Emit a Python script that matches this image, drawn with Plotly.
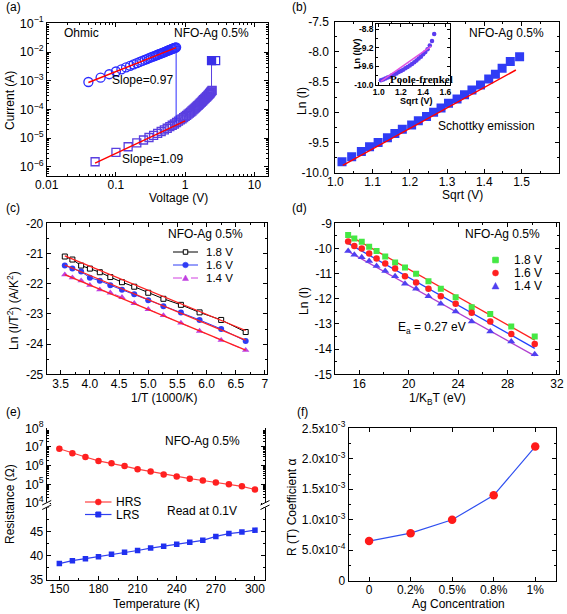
import plotly.graph_objects as go

W, H = 567, 614

# ---------------- (a) I-V curve, log-log ----------------
a_lrs_voltage = [0.04, 0.06, 0.08, 0.10, 0.12, 0.14, 0.16, 0.18, 0.20, 0.22, 0.24, 0.26, 0.28, 0.30,
                 0.32, 0.34, 0.36, 0.38, 0.40, 0.42, 0.44, 0.46, 0.48, 0.50, 0.52, 0.54, 0.56, 0.58,
                 0.60, 0.62, 0.64, 0.66, 0.68, 0.70, 0.72, 0.74]
a_lrs_current = [9.0e-4, 1.27e-3, 1.68e-3, 2.09e-3, 2.49e-3, 2.90e-3, 3.30e-3, 3.70e-3, 4.09e-3, 4.49e-3,
                 4.89e-3, 5.28e-3, 5.67e-3, 6.07e-3, 6.46e-3, 6.85e-3, 7.24e-3, 7.63e-3, 8.02e-3, 8.41e-3,
                 8.79e-3, 9.18e-3, 9.57e-3, 9.96e-3, 1.03e-2, 1.07e-2, 1.11e-2, 1.15e-2, 1.19e-2, 1.23e-2,
                 1.27e-2, 1.30e-2, 1.34e-2, 1.38e-2, 1.42e-2, 1.46e-2]
a_hrs_voltage = [0.05, 0.10, 0.15, 0.20, 0.25, 0.30, 0.35, 0.40, 0.45, 0.50,
                 0.55, 0.60, 0.65, 0.70, 0.75, 0.80, 0.85, 0.90, 0.95, 1.00,
                 1.05, 1.10, 1.15, 1.20, 1.25, 1.30, 1.35, 1.40, 1.45, 1.50,
                 1.55, 1.60, 1.65, 1.70, 1.75, 1.80, 1.85, 1.90, 1.95, 2.00,
                 2.05, 2.10, 2.15, 2.20, 2.25, 2.30, 2.35, 2.40, 2.45]
a_hrs_current = [1.5e-6, 3.2e-6, 5.0e-6, 6.8e-6, 8.6e-6, 1.05e-5, 1.25e-5, 1.45e-5, 1.7e-5, 1.95e-5,
                 2.2e-5, 2.5e-5, 2.8e-5, 3.1e-5, 3.5e-5, 3.9e-5, 4.3e-5, 4.7e-5, 5.2e-5, 5.7e-5,
                 6.2e-5, 6.8e-5, 7.4e-5, 8.1e-5, 8.8e-5, 9.6e-5, 1.04e-4, 1.13e-4, 1.22e-4, 1.32e-4,
                 1.42e-4, 1.53e-4, 1.65e-4, 1.77e-4, 1.9e-4, 2.04e-4, 2.18e-4, 2.33e-4, 2.48e-4, 2.64e-4,
                 2.8e-4, 2.97e-4, 3.15e-4, 3.35e-4, 3.55e-4, 3.8e-4, 4.05e-4, 4.3e-4, 4.6e-4]
a_set_voltage = [2.4, 2.4]
a_set_current = [4.5e-4, 5.0e-3]
a_top_voltage = [2.4, 2.75]
a_top_current = [5.0e-3, 5.0e-3]
a_reset_voltage = [0.74, 0.74]
a_reset_current = [1.46e-2, 3.4e-5]
a_fit_lrs_voltage = [0.04, 0.74]
a_fit_lrs_current = [8.7e-4, 1.42e-2]
a_fit_hrs_voltage = [0.05, 1.0]
a_fit_hrs_current = [1.35e-6, 4.0e-5]

# ---------------- (b) Schottky + inset Poole-Frenkel ----------------
b_sqrt_v = [1.018, 1.044, 1.07, 1.092, 1.115, 1.14, 1.16, 1.18, 1.205, 1.223, 1.245, 1.264,
            1.284, 1.304, 1.327, 1.347, 1.367, 1.39, 1.412, 1.43, 1.448, 1.47, 1.495]
b_ln_i = [-9.82, -9.735, -9.65, -9.57, -9.5, -9.42, -9.35, -9.28, -9.21, -9.14, -9.07, -9.0,
          -8.93, -8.85, -8.78, -8.71, -8.63, -8.55, -8.45, -8.37, -8.27, -8.16, -8.08]
b_fit_x = [1.02, 1.485]
b_fit_y = [-9.88, -8.30]
pf_sqrt_v = [1.02, 1.04, 1.06, 1.08, 1.10, 1.12, 1.14, 1.16, 1.18, 1.20, 1.22, 1.24, 1.26,
             1.28, 1.30, 1.32, 1.34, 1.36, 1.38, 1.40, 1.42, 1.44, 1.46, 1.48, 1.50]
pf_ln_iv = [-9.90, -9.88, -9.86, -9.84, -9.82, -9.79, -9.77, -9.75, -9.72, -9.70, -9.67, -9.64, -9.61,
            -9.58, -9.55, -9.51, -9.47, -9.43, -9.39, -9.34, -9.29, -9.23, -9.15, -9.05, -8.90]
pf_fit_x = [1.02, 1.47]
pf_fit_y = [-9.92, -9.17]

# ---------------- (c) Ln(I/T^2) vs 1000/T ----------------
c_inv_t = [3.57, 3.70, 3.85, 4.00, 4.17, 4.35, 4.55, 4.76, 5.00, 5.26, 5.56, 5.88, 6.25, 6.67]
c_18v = [-21.1, -21.2, -21.4, -21.5, -21.62, -21.78, -21.95, -22.1, -22.3, -22.5, -22.7, -22.95, -23.2, -23.6]
c_16v = [-21.4, -21.5, -21.6, -21.8, -21.9, -22.05, -22.2, -22.35, -22.55, -22.75, -22.95, -23.2, -23.5, -23.9]
c_14v = [-21.7, -21.8, -21.9, -22.05, -22.2, -22.3, -22.45, -22.65, -22.85, -23.05, -23.3, -23.57, -23.87, -24.2]
c_fit_x = [3.57, 6.67]
c_fit_18v = [-21.08, -23.55]
c_fit_16v = [-21.38, -23.87]
c_fit_14v = [-21.7, -24.2]

# ---------------- (d) Ln(I) vs 1/kT ----------------
d_inv_kt = [15.1, 15.6, 16.2, 16.8, 17.4, 18.1, 18.9, 19.7, 20.6, 21.6, 22.6, 23.8, 25.1, 26.6, 28.3, 30.2]
d_18v = [-9.46, -9.6, -9.73, -9.93, -10.1, -10.32, -10.56, -10.76, -11.0, -11.3, -11.6, -11.94, -12.34, -12.6, -13.1, -13.5]
d_16v = [-9.72, -9.9, -10.0, -10.2, -10.4, -10.6, -10.8, -11.1, -11.35, -11.6, -11.9, -12.2, -12.55, -12.9, -13.4, -13.8]
d_14v = [-10.1, -10.25, -10.35, -10.5, -10.7, -10.9, -11.1, -11.4, -11.6, -11.9, -12.2, -12.5, -12.9, -13.3, -13.7, -14.2]
d_fit_x = [15.0, 30.2]
d_fit_18v = [-9.44, -13.64]
d_fit_16v = [-9.77, -13.97]
d_fit_14v = [-10.09, -14.27]

# ---------------- (e) Resistance vs temperature ----------------
e_temp = [150, 160, 170, 180, 190, 200, 210, 220, 230, 240, 250, 260, 270, 280, 290, 300]
e_hrs = [8.0e6, 4.6e6, 2.9e6, 1.8e6, 1.35e6, 9.5e5, 6.5e5, 4.8e5, 3.4e5, 2.6e5, 2.0e5, 1.6e5, 1.25e5, 1.0e5, 7.8e4, 5.3e4]
e_lrs = [38.4, 39.0, 39.4, 39.8, 40.3, 40.75, 41.1, 41.6, 42.0, 42.4, 42.8, 43.2, 44.0, 44.6, 44.9, 45.3]

# ---------------- (f) R(T) coefficient ----------------
f_conc = ["0", "0.2%", "0.5%", "0.8%", "1%"]
f_alpha = [6.5e-4, 7.8e-4, 1.0e-3, 1.4e-3, 2.2e-3]

FONT = "Liberation Sans"
RED = "#ff1a1a"
BLUE = "#2f3cf5"


def dom_x(x0, x1):
    return [x0 / W, x1 / W]


def dom_y(y_top, y_bot):
    return [1 - y_bot / H, 1 - y_top / H]


def axis(domain, rng, anchor, **kw):
    d = dict(domain=domain, range=rng, anchor=anchor, automargin=False, showline=True, linecolor="black",
             linewidth=1, mirror="allticks", ticks="inside", ticklen=4, tickcolor="black", tickwidth=1,
             showgrid=False, zeroline=False, tickfont=dict(family=FONT, size=12, color="black"))
    d.update(kw)
    return d


def minor(dtick=None, tick0=None):
    m = dict(ticks="inside", ticklen=2, tickcolor="black", showgrid=False)
    if dtick is not None:
        m["dtick"] = dtick
    if tick0 is not None:
        m["tick0"] = tick0
    return m


fig = go.Figure()

# (a)
fig.add_trace(go.Scatter(x=a_lrs_voltage, y=a_lrs_current, mode="markers", xaxis="x", yaxis="y",
                         marker=dict(symbol="circle-open", size=9, color="#2b2bff", line=dict(width=1.3))))
fig.add_trace(go.Scatter(x=a_hrs_voltage, y=a_hrs_current, mode="markers", xaxis="x", yaxis="y",
                         marker=dict(symbol="square-open", size=8, color="#5a3fe0", line=dict(width=1.3))))
fig.add_trace(go.Scatter(x=a_reset_voltage, y=a_reset_current, mode="lines", xaxis="x", yaxis="y",
                         line=dict(color="#2b2bff", width=1)))
fig.add_trace(go.Scatter(x=a_set_voltage, y=a_set_current, mode="lines", xaxis="x", yaxis="y",
                         line=dict(color="#5a3fe0", width=1)))
fig.add_trace(go.Scatter(x=a_top_voltage, y=a_top_current, mode="markers", xaxis="x", yaxis="y",
                         marker=dict(symbol=["square", "square-open"], size=8, color="#3a30e8",
                                     line=dict(width=1.3, color="#3a30e8"))))
fig.add_trace(go.Scatter(x=a_fit_lrs_voltage, y=a_fit_lrs_current, mode="lines", xaxis="x", yaxis="y",
                         line=dict(color="#ff0000", width=1.5)))
fig.add_trace(go.Scatter(x=a_fit_hrs_voltage, y=a_fit_hrs_current, mode="lines", xaxis="x", yaxis="y",
                         line=dict(color="#ff0000", width=1.5)))

# (b)
fig.add_trace(go.Scatter(x=b_sqrt_v, y=b_ln_i, mode="markers", xaxis="x2", yaxis="y2",
                         marker=dict(symbol="square", size=9, color=BLUE)))
fig.add_trace(go.Scatter(x=b_fit_x, y=b_fit_y, mode="lines", xaxis="x2", yaxis="y2",
                         line=dict(color="#ff0000", width=1.5)))
fig.add_trace(go.Scatter(x=pf_sqrt_v, y=pf_ln_iv, mode="markers", xaxis="x3", yaxis="y3",
                         marker=dict(symbol="circle", size=4.5, color="#5a3cf0")))
fig.add_trace(go.Scatter(x=pf_fit_x, y=pf_fit_y, mode="lines", xaxis="x3", yaxis="y3",
                         line=dict(color="#e050e0", width=1.5)))

# (c)
fig.add_trace(go.Scatter(x=c_inv_t, y=c_18v, mode="lines+markers", xaxis="x4", yaxis="y4",
                         line=dict(color="black", width=1),
                         marker=dict(symbol="square", size=5, color="white", line=dict(color="black", width=1))))
fig.add_trace(go.Scatter(x=c_inv_t, y=c_16v, mode="lines+markers", xaxis="x4", yaxis="y4",
                         line=dict(color=BLUE, width=1), marker=dict(symbol="circle", size=6, color=BLUE)))
fig.add_trace(go.Scatter(x=c_inv_t, y=c_14v, mode="lines+markers", xaxis="x4", yaxis="y4",
                         line=dict(color="#d040e0", width=1, dash="dash"),
                         marker=dict(symbol="triangle-up", size=6.5, color="#c040e0")))
for fy in (c_fit_18v, c_fit_16v, c_fit_14v):
    fig.add_trace(go.Scatter(x=c_fit_x, y=fy, mode="lines", xaxis="x4", yaxis="y4",
                             line=dict(color="#ff2020", width=1.3)))

# (d)
fig.add_trace(go.Scatter(x=d_fit_x, y=d_fit_18v, mode="lines", xaxis="x5", yaxis="y5",
                         line=dict(color="#ff2020", width=1.3)))
fig.add_trace(go.Scatter(x=d_fit_x, y=d_fit_16v, mode="lines", xaxis="x5", yaxis="y5",
                         line=dict(color="#2040ff", width=1.3)))
fig.add_trace(go.Scatter(x=d_fit_x, y=d_fit_14v, mode="lines", xaxis="x5", yaxis="y5",
                         line=dict(color="#b040d0", width=1.3)))
fig.add_trace(go.Scatter(x=d_inv_kt, y=d_18v, mode="markers", xaxis="x5", yaxis="y5",
                         marker=dict(symbol="square", size=6, color="#44e844")))
fig.add_trace(go.Scatter(x=d_inv_kt, y=d_16v, mode="markers", xaxis="x5", yaxis="y5",
                         marker=dict(symbol="circle", size=6.5, color="#ff2020")))
fig.add_trace(go.Scatter(x=d_inv_kt, y=d_14v, mode="markers", xaxis="x5", yaxis="y5",
                         marker=dict(symbol="triangle-up", size=7, color="#5040f0")))

# (e)
fig.add_trace(go.Scatter(x=e_temp, y=e_hrs, mode="lines+markers", xaxis="x6", yaxis="y6",
                         line=dict(color="#ff4040", width=1.2), marker=dict(symbol="circle", size=6.5, color="#ff2020")))
fig.add_trace(go.Scatter(x=e_temp, y=e_lrs, mode="lines+markers", xaxis="x6", yaxis="y7",
                         line=dict(color="#3040f0", width=1.2), marker=dict(symbol="square", size=5.5, color="#2030f0")))

# (f)
fig.add_trace(go.Scatter(x=f_conc, y=f_alpha, mode="lines+markers", xaxis="x7", yaxis="y8",
                         line=dict(color="#3050f0", width=1.2), marker=dict(symbol="circle", size=8.5, color=RED)))

# ---------- axes ----------
layout = dict(width=W, height=H, margin=dict(l=0, r=0, t=0, b=0, pad=0), showlegend=False, template="none",
              paper_bgcolor="white", plot_bgcolor="white", font=dict(family=FONT, size=12, color="black"))

layout["xaxis"] = axis(dom_x(46.7, 268.3), [-2.0, 1.2], "y", type="log", dtick=1, exponentformat="none",
                       minor=minor(), ticklabelstandoff=-2)
layout["yaxis"] = axis(dom_y(23.3, 175.7), [-6.31, -1], "x", type="log", dtick=1, exponentformat="power",
                       tickfont=dict(family=FONT, size=10, color="black"), minor=minor())

layout["xaxis2"] = axis(dom_x(335.3, 558.7), [1.0, 1.6], "y2", dtick=0.1, tickformat=".1f",
                        minor=minor(0.05), ticklabelstandoff=-2)
layout["yaxis2"] = axis(dom_y(21.7, 172.7), [-10, -7.5], "x2",
                        tickvals=[-10, -9.5, -9, -8.5, -8, -7.5],
                        ticktext=["-10.0", "-9.5", "-9.0", "-8.5", "-8.0", "-7.5"], minor=minor(0.25, -10),
                        ticklabelstandoff=3)

ins_font = dict(family=FONT, size=8.5, color="black", weight="bold")
layout["xaxis3"] = axis(dom_x(376.3, 450.3), [0.978, 1.645], "y3", tickvals=[1.0, 1.2, 1.4, 1.6],
                        ticktext=["1.0", "1.2", "1.4", "1.6"], tickfont=ins_font, ticklen=3, minor=minor(0.1, 1.0),
                        ticklabelstandoff=-1)
layout["yaxis3"] = axis(dom_y(24, 85), [-10.0, -8.686], "x3", tickvals=[-10.0, -9.6, -9.2, -8.8],
                        ticktext=["-10.0", "-9.6", "-9.2", "-8.8"], tickfont=ins_font, ticklen=3,
                        minor=minor(0.2, -10.0))

layout["xaxis4"] = axis(dom_x(46.7, 266.7), [3.26, 7.03], "y4",
                        tickvals=[3.5, 4.0, 4.5, 5.0, 5.5, 6.0, 6.5, 7.0],
                        ticktext=["3.5", "4.0", "4.5", "5.0", "5.5", "6.0", "6.5", "7"], minor=minor(0.25, 3.0),
                        ticklabelstandoff=-2)
layout["yaxis4"] = axis(dom_y(223.3, 374.3), [-25, -20], "x4", tickvals=[-25, -24, -23, -22, -21, -20],
                        ticktext=["-25", "-24", "-23", "-22", "-21", "-20"], minor=minor(0.5, -25))

layout["xaxis5"] = axis(dom_x(335.3, 558.7), [14.06, 32.14], "y5", tickvals=[16, 20, 24, 28, 32],
                        minor=minor(2, 14), ticklabelstandoff=-2)
layout["yaxis5"] = axis(dom_y(223.3, 374.3), [-15, -9], "x5", tickvals=[-15, -14, -13, -12, -11, -10, -9],
                        ticktext=["-15", "-14", "-13", "-12", "-11", "-10", "-9"], minor=minor(0.5, -15))

layout["xaxis6"] = axis(dom_x(46.7, 265), [140.3, 307.7], "y7", mirror=False,
                        tickvals=[150, 180, 210, 240, 270, 300], minor=minor(15, 150), ticklabelstandoff=-2)
layout["xaxis8"] = axis(dom_x(46.7, 265), [140.3, 307.7], "y6", mirror=False, side="top", overlaying="x6",
                        tickvals=[150, 180, 210, 240, 270, 300], showticklabels=False, minor=minor(15, 150))
layout["yaxis6"] = axis(dom_y(428.3, 505), [3.893, 8.0], "x6", type="log", dtick=1, exponentformat="power",
                        tickfont=dict(family=FONT, size=10, color="black"), minor=minor())
layout["yaxis7"] = axis(dom_y(505, 580), [35, 50.5], "x6", tickvals=[35, 40, 45], minor=minor(2.5, 35))

layout["xaxis7"] = axis(dom_x(348.7, 556), [-0.49, 4.5], "y8", type="category", ticklabelstandoff=-2)
layout["yaxis8"] = axis(dom_y(428.3, 580.7), [0, 2.5e-3], "x7",
                        tickvals=[0, 5e-4, 1e-3, 1.5e-3, 2e-3, 2.5e-3],
                        ticktext=["0", "5.0x10<sup>-4</sup>", "1.0x10<sup>-3</sup>", "1.5x10<sup>-3</sup>",
                                  "2.0x10<sup>-3</sup>", "2.5x10<sup>-3</sup>"], minor=minor(2.5e-4, 0))


# ---------- text ----------
def note(x, y, text, size=12, anchor="center", angle=0, family=FONT, weight="normal"):
    return dict(xref="paper", yref="paper", x=x / W, y=1 - y / H, text=text, showarrow=False,
                xanchor=anchor, yanchor="middle", textangle=angle,
                font=dict(family=family, size=size, color="black", weight=weight))


ann = [
    note(13, 7, "(a)"), note(299, 7, "(b)"), note(13, 208, "(c)"), note(299, 208, "(d)"),
    note(13, 412, "(e)"), note(302, 412, "(f)"),
    # (a)
    note(81, 33, "Ohmic"), note(211, 33, "NFO-Ag 0.5%"), note(142, 80, "Slope=0.97"),
    note(152, 159, "Slope=1.09"),
    note(178, 198, "Voltage (V)"), note(10, 101, "Current (A)", angle=-90),
    # (b)
    note(506, 33, "NFO-Ag 0.5%"), note(486, 126, "Schottky emission"),
    note(421, 79, "Poole-frenkel", size=11, family="Liberation Serif", weight="bold"),
    note(416, 101.5, "Sqrt (V)", size=9, weight="bold"),
    note(357, 54, "Ln (I/V)", size=9, angle=-90, weight="bold"),
    note(462, 195, "Sqrt (V)"), note(302, 101, "Ln (I)", angle=-90),
    # (c)
    note(205, 234, "NFO-Ag 0.5%"),
    note(204, 252, "1.8 V", anchor="left", size=11.5), note(204, 265, "1.6 V", anchor="left", size=11.5),
    note(204, 278, "1.4 V", anchor="left", size=11.5),
    note(164, 398, "1/T (1000/K)"), note(13, 311, "Ln (I/T<sup>2</sup>) (A/K<sup>2</sup>)", angle=-90),
    # (d)
    note(502, 233.5, "NFO-Ag 0.5%"),
    note(512, 260, "1.8 V", anchor="left"), note(512, 273, "1.6 V", anchor="left"),
    note(512, 286, "1.4 V", anchor="left"),
    note(432, 328, "E<sub>a</sub> = 0.27 eV"),
    note(437, 399, "1/K<sub>B</sub>T (eV)"), note(304, 301, "Ln (I)", angle=-90),
    # (e)
    note(202, 441, "NFO-Ag 0.5%"), note(202, 511, "Read at 0.1V"),
    note(114, 502, "HRS", anchor="left"), note(114, 514.5, "LRS", anchor="left"),
    note(156, 604, "Temperature (K)"), note(10, 504, "Resistance (Ω)", angle=-90),
    # (f)
    note(458, 604, "Ag Concentration"), note(292, 508, "R (T) Coefficient α", angle=-90),
]
layout["annotations"] = ann


# ---------- decorations (legend glyphs, axis breaks) ----------
def px(x):
    return x / W


def py(y):
    return 1 - y / H


def seg(x0, y0, x1, y1, color, width=1, dash="solid"):
    return dict(type="line", xref="paper", yref="paper", x0=px(x0), y0=py(y0), x1=px(x1), y1=py(y1),
                line=dict(color=color, width=width, dash=dash))


def square(cx, cy, s, fill, line):
    return dict(type="rect", xref="paper", yref="paper", x0=px(cx - s / 2), x1=px(cx + s / 2),
                y0=py(cy + s / 2), y1=py(cy - s / 2), fillcolor=fill, line=dict(color=line, width=1))


def circ(cx, cy, r, fill):
    return dict(type="circle", xref="paper", yref="paper", x0=px(cx - r), x1=px(cx + r),
                y0=py(cy + r), y1=py(cy - r), fillcolor=fill, line=dict(color=fill, width=0.5))


def tri(cx, cy, s, fill):
    p = "M {} {} L {} {} L {} {} Z".format(px(cx - s / 2), py(cy + s / 2.4), px(cx + s / 2), py(cy + s / 2.4),
                                           px(cx), py(cy - s / 2))
    return dict(type="path", xref="paper", yref="paper", path=p, fillcolor=fill, line=dict(color=fill, width=0.5))


shapes = [
    # (c) legend
    seg(173, 252, 198, 252, "black"), square(185.5, 252, 4.5, "white", "black"),
    seg(173, 265, 198, 265, BLUE), circ(185.5, 265, 2.8, BLUE),
    seg(173, 278, 198, 278, "#d040e0", dash="dash"), tri(185.5, 278, 6, "#c040e0"),
    # (d) legend
    square(495.5, 260, 5.5, "#44e844", "#44e844"), circ(495.5, 273, 3, "#ff2020"), tri(495.5, 286, 7, "#5040f0"),
    # (e) legend
    seg(85, 502, 111.5, 502, "#ff4040", width=1.2), circ(98.3, 502, 3, "#ff2020"),
    seg(85, 514.5, 111.5, 514.5, "#3040f0", width=1.2), square(98.3, 514.5, 5, "#2030f0", "#2030f0"),
]
# axis break marks on panel (e)
for sx in (46.7, 265):
    shapes.append(dict(type="rect", xref="paper", yref="paper", x0=px(sx - 3), x1=px(sx + 3),
                       y0=py(507.5), y1=py(502.5), fillcolor="white", line=dict(width=0)))
    shapes.append(seg(sx - 4.5, 505, sx + 4.5, 500.5, "black"))
    shapes.append(seg(sx - 4.5, 509.5, sx + 4.5, 505, "black"))
layout["shapes"] = shapes

fig.update_layout(**layout)
fig.write_html("out.html", config={"displayModeBar": False},
               post_script="document.body.style.margin='0';document.body.style.overflow='hidden';")
